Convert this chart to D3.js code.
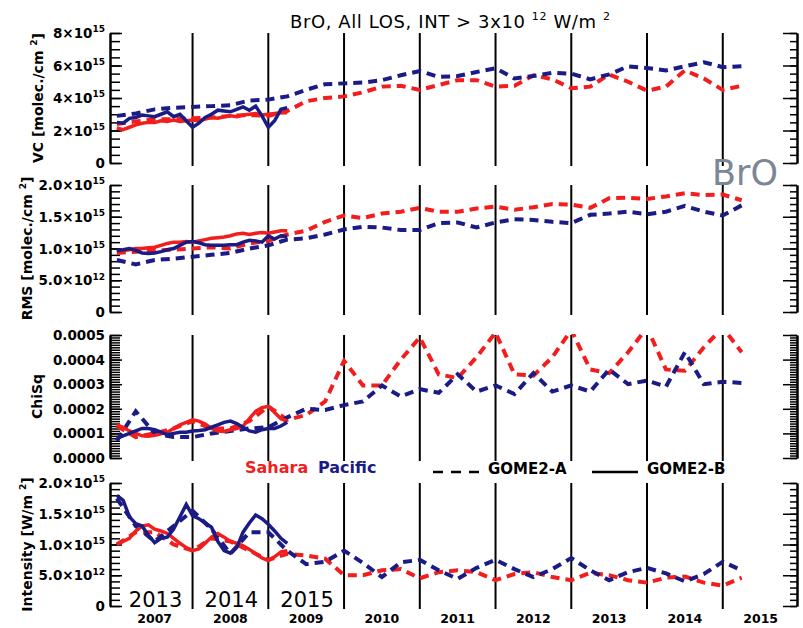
<!DOCTYPE html>
<html>
<head>
<meta charset="utf-8">
<script src="https://cdn.jsdelivr.net/npm/d3@7"></script>
<style>
  body { margin: 0; background: #fff; }
  svg { display: block; }
  text { font-family: 'DejaVu Sans', sans-serif; }
</style>
</head>
<body>
<div id="chart"></div>
<script>
// GOME2-A: quarterly values 2007.0 - 2015.25, GOME2-B: monthly values 2013.0 - 2015.25
// (GOME2-B is drawn over the 2007-2009 years, shifted by 6 years)
const timesA = d3.range(34).map(i => 2007 + i * 0.25)
const timesB = d3.range(28).map(i => 2013 + i / 12)
const shiftB = 6

// VC, units of 1e15 molec/cm2
const vcSaharaA = [2.4, 2.55, 2.7, 2.7, 2.75, 2.8, 2.9, 2.95, 2.9, 3.2, 3.8, 4.0, 4.1, 4.35, 4.7, 4.75, 4.5, 4.8, 5.1, 5.1, 4.7, 4.75, 5.4, 5.15, 4.6, 4.7, 5.45, 5.0, 4.45, 4.7, 5.7, 5.2, 4.5, 4.75]
const vcPacificA = [2.9, 3.05, 3.3, 3.4, 3.45, 3.5, 3.55, 3.85, 3.9, 4.1, 4.5, 4.85, 4.9, 4.95, 5.1, 5.4, 5.66, 5.3, 5.35, 5.6, 5.83, 5.2, 5.35, 5.55, 5.5, 5.15, 5.45, 5.95, 5.85, 5.7, 5.95, 6.2, 5.9, 5.95]
const vcSaharaB = [2.15, 2.05, 2.2, 2.35, 2.45, 2.5, 2.5, 2.6, 2.55, 2.65, 2.55, 2.6, 2.65, 2.6, 2.7, 2.8, 2.75, 2.85, 2.9, 2.85, 2.95, 3.0, 3.05, 2.95, 3.0, 3.05, 3.1, 3.1]
const vcPacificB = [2.5, 2.45, 2.75, 2.8, 2.95, 2.9, 2.85, 3.0, 3.15, 2.85, 3.0, 2.6, 2.2, 2.45, 2.8, 3.0, 3.25, 3.2, 3.15, 3.3, 3.45, 3.25, 3.5, 2.9, 2.2, 2.6, 3.3, 3.4]

// RMS, units of 1e15 molec/cm2
const rmsSaharaA = [0.93, 0.95, 0.97, 0.98, 1.0, 1.02, 1.0, 1.08, 1.12, 1.22, 1.28, 1.42, 1.52, 1.48, 1.55, 1.58, 1.64, 1.58, 1.58, 1.63, 1.66, 1.61, 1.65, 1.7, 1.69, 1.64, 1.79, 1.8, 1.78, 1.82, 1.87, 1.84, 1.85, 1.76]
const rmsPacificA = [0.82, 0.75, 0.82, 0.84, 0.87, 0.9, 0.93, 1.0, 1.05, 1.14, 1.16, 1.22, 1.3, 1.34, 1.33, 1.29, 1.29, 1.4, 1.41, 1.33, 1.41, 1.46, 1.45, 1.42, 1.4, 1.53, 1.55, 1.58, 1.54, 1.58, 1.67, 1.58, 1.52, 1.68]
const rmsSaharaB = [0.95, 0.97, 0.98, 1.0, 1.0, 1.01, 1.02, 1.05, 1.08, 1.1, 1.1, 1.11, 1.1, 1.12, 1.14, 1.16, 1.17, 1.18, 1.2, 1.23, 1.24, 1.22, 1.24, 1.25, 1.24, 1.26, 1.28, 1.28]
const rmsPacificB = [0.97, 0.98, 1.0, 0.97, 0.93, 0.92, 0.93, 0.95, 0.98, 1.0, 1.05, 1.1, 1.11, 1.09, 1.06, 1.05, 1.05, 1.05, 1.06, 1.06, 1.1, 1.13, 1.12, 1.1, 1.2, 1.15, 1.2, 1.19]

// ChiSq, units of 1e-4
const chiSaharaA = [1.3, 0.85, 1.0, 1.2, 1.5, 1.2, 1.2, 1.5, 2.1, 1.55, 1.75, 2.3, 3.95, 2.95, 2.95, 4.0, 4.9, 3.4, 3.25, 4.1, 5.1, 3.4, 3.35, 4.1, 5.2, 3.6, 3.45, 4.3, 5.3, 3.6, 3.55, 4.5, 5.3, 4.3]
const chiPacificA = [0.7, 1.9, 1.0, 0.85, 0.85, 1.0, 1.1, 1.2, 1.25, 1.65, 2.0, 1.95, 2.15, 2.3, 2.95, 2.5, 2.8, 2.65, 3.4, 2.7, 2.95, 2.6, 3.45, 2.7, 2.95, 2.7, 3.6, 3.0, 3.15, 2.9, 4.3, 3.0, 3.1, 3.05]
const chiSaharaB = [1.35, 1.25, 1.1, 1.0, 0.9, 0.88, 0.92, 0.98, 1.05, 1.2, 1.35, 1.45, 1.55, 1.5, 1.38, 1.2, 1.1, 1.08, 1.15, 1.2, 1.3, 1.6, 1.9, 2.05, 2.1, 1.85, 1.6, 1.5]
const chiPacificB = [0.8, 0.9, 1.0, 1.1, 1.2, 1.2, 1.15, 1.05, 0.95, 1.0, 1.05, 1.05, 1.1, 1.12, 1.15, 1.25, 1.35, 1.45, 1.5, 1.4, 1.25, 1.1, 1.05, 1.15, 1.2, 1.2, 1.3, 1.45]

// Intensity, units of 1e15 W/m2
const intSaharaA = [1.0, 1.2, 1.2, 1.0, 0.9, 1.1, 1.05, 0.9, 0.75, 0.85, 0.82, 0.77, 0.5, 0.5, 0.58, 0.6, 0.45, 0.55, 0.58, 0.55, 0.42, 0.52, 0.55, 0.47, 0.42, 0.54, 0.5, 0.42, 0.38, 0.46, 0.48, 0.38, 0.33, 0.46]
const intPacificA = [1.75, 1.3, 1.05, 1.3, 1.55, 1.25, 0.85, 1.2, 1.2, 0.9, 0.68, 0.72, 0.9, 0.7, 0.47, 0.71, 0.75, 0.58, 0.44, 0.62, 0.75, 0.6, 0.47, 0.6, 0.78, 0.58, 0.42, 0.55, 0.62, 0.53, 0.4, 0.52, 0.72, 0.58]
const intSaharaB = [1.0, 1.05, 1.1, 1.22, 1.3, 1.32, 1.25, 1.22, 1.18, 1.1, 1.02, 0.95, 0.9, 0.93, 1.02, 1.12, 1.18, 1.12, 1.05, 1.02, 0.98, 0.92, 0.85, 0.78, 0.74, 0.8, 0.88, 0.9]
const intPacificB = [1.8, 1.72, 1.45, 1.34, 1.3, 1.15, 1.03, 1.1, 1.12, 1.25, 1.45, 1.65, 1.47, 1.42, 1.35, 1.28, 1.05, 0.9, 0.86, 0.95, 1.2, 1.35, 1.48, 1.42, 1.33, 1.22, 1.1, 1.02]

// tick values and labels ({..} = superscript)
const vcTicks = [0, 2, 4, 6, 8]
const vcTickLabels = ['0', '2×10{15}', '4×10{15}', '6×10{15}', '8×10{15}']
const rmsTicks = [0, 0.5, 1.0, 1.5, 2.0]
const rmsTickLabels = ['0', '5.0×10{12}', '1.0×10{15}', '1.5×10{15}', '2.0×10{15}']
const chiTicks = [0, 1, 2, 3, 4, 5]
const chiTickLabels = ['0.0000', '0.0001', '0.0002', '0.0003', '0.0004', '0.0005']
const intTicks = [0, 0.5, 1.0, 1.5, 2.0]
const intTickLabels = ['0', '5.0×10{12}', '1.0×10{15}', '1.5×10{15}', '2.0×10{15}']

const yearLines = [2008, 2009, 2010, 2011, 2012, 2013, 2014, 2015]
const yearLabels = [2007, 2008, 2009, 2010, 2011, 2012, 2013, 2014, 2015]
const gomeBYears = [2013, 2014, 2015]

const red = '#f21e1e'
const navy = '#1b1b86'

const width = 803
const height = 628
const svg = d3.select('#chart').append('svg')
  .attr('width', width)
  .attr('height', height)

const left = 110
const right = 797
const x = d3.scaleLinear().domain([2006.91, 2015.98]).range([left, right])

// text with superscripts written as {..}
function richText (sel, str, size, supSize) {
  const rise = size * 0.42
  let up = false
  str.split(/(\{[^}]*\})/).filter(s => s.length).forEach(p => {
    if (p[0] === '{') {
      sel.append('tspan').text(p.slice(1, -1)).attr('font-size', supSize).attr('dy', up ? 0 : -rise)
      up = true
    } else {
      sel.append('tspan').text(p).attr('dy', up ? rise : 0)
      up = false
    }
  })
  return sel
}

const panels = [
  { id: 'vc', top: 33, bottom: 163, max: 8, ticks: vcTicks, labels: vcTickLabels, minor: 4, title: 'VC [molec./cm {2}]', titleX: 43, series: [vcSaharaA, vcPacificA, vcSaharaB, vcPacificB] },
  { id: 'rms', top: 185, bottom: 312, max: 2, ticks: rmsTicks, labels: rmsTickLabels, minor: 5, title: 'RMS [molec./cm {2}]', titleX: 32, series: [rmsSaharaA, rmsPacificA, rmsSaharaB, rmsPacificB] },
  { id: 'chi', top: 335, bottom: 458, max: 5, ticks: chiTicks, labels: chiTickLabels, minor: 10, title: 'ChiSq', titleX: 42, series: [chiSaharaA, chiPacificA, chiSaharaB, chiPacificB] },
  { id: 'int', top: 483, bottom: 606, max: 2, ticks: intTicks, labels: intTickLabels, minor: 5, title: 'Intensity [W/m {2}]', titleX: 32, series: [intSaharaA, intPacificA, intSaharaB, intPacificB] }
]

panels.forEach(p => {
  const g = svg.append('g').attr('class', 'panel-' + p.id)
  const y = d3.scaleLinear().domain([0, p.max]).range([p.bottom, p.top])

  svg.append('clipPath').attr('id', 'clip-' + p.id)
    .append('rect')
    .attr('x', left).attr('y', p.top - 1)
    .attr('width', right - left).attr('height', p.bottom - p.top + 2)

  // year separators
  g.selectAll('line.year')
    .data(yearLines)
    .enter()
    .append('line')
    .attr('x1', d => x(d)).attr('x2', d => x(d))
    .attr('y1', p.top).attr('y2', p.bottom + 3)
    .attr('stroke', '#000')
    .attr('stroke-width', 2)

  // axes (ticks point inward, IDL style)
  const step = p.ticks[1] - p.ticks[0]
  const minorVals = d3.range(0, p.max + step / (2 * p.minor), step / p.minor)
  const axes = [
    { gen: d3.axisLeft, at: left, major: -12, minorLen: -10 },
    { gen: d3.axisRight, at: right, major: -14, minorLen: -7 }
  ]
  axes.forEach(a => {
    const ag = g.append('g').attr('transform', `translate(${a.at},0)`)
    ag.append('g').call(a.gen(y).tickValues(minorVals).tickSize(a.minorLen).tickSizeOuter(0).tickFormat(''))
    ag.append('g').call(a.gen(y).tickValues(p.ticks).tickSize(a.major).tickSizeOuter(0).tickFormat(''))
    ag.selectAll('.tick line').attr('stroke', '#000').attr('stroke-width', 1.5)
    ag.selectAll('.domain').attr('stroke', '#000').attr('stroke-width', 2)
  })

  // tick labels
  p.ticks.forEach((t, i) => {
    const txt = g.append('text')
      .attr('x', 105)
      .attr('y', y(t) + 5)
      .attr('text-anchor', 'end')
      .attr('font-size', 13.5)
      .attr('font-weight', 'bold')
    richText(txt, p.labels[i], 13.5, 9)
  })

  // axis title
  const title = g.append('text')
    .attr('transform', `translate(${p.titleX},${(p.top + p.bottom) / 2}) rotate(-90)`)
    .attr('text-anchor', 'middle')
    .attr('font-size', 14)
    .attr('font-weight', 'bold')
  richText(title, p.title, 14, 9)

  // data lines
  const line = d3.line().x(d => x(d[0])).y(d => y(d[1]))
  const plot = g.append('g').attr('clip-path', `url(#clip-${p.id})`)
  const [sA, pA, sB, pB] = p.series
  const defs = [
    { values: sA, times: timesA, color: red, dash: '9,6', w: 4 },
    { values: pA, times: timesA, color: navy, dash: '9,6', w: 4 },
    { values: sB, times: timesB.map(t => t - shiftB), color: red, dash: null, w: 3.5 },
    { values: pB, times: timesB.map(t => t - shiftB), color: navy, dash: null, w: 3.5 }
  ]
  defs.forEach(s => {
    plot.append('path')
      .datum(s.values.map((v, i) => [s.times[i], v]))
      .attr('d', line)
      .attr('fill', 'none')
      .attr('stroke', s.color)
      .attr('stroke-width', s.w)
      .attr('stroke-dasharray', s.dash)
  })
})

// main title
const mainTitle = svg.append('text')
  .attr('x', 290)
  .attr('y', 28)
  .attr('font-size', 18)
  .attr('letter-spacing', 0.6)
richText(mainTitle, 'BrO, All LOS, INT > 3x10 {12} W/m {2}', 18, 11)

// big gray species label
svg.append('text')
  .attr('x', 712)
  .attr('y', 185)
  .attr('font-size', 35)
  .attr('fill', '#7b8794')
  .text('BrO')

// legend
svg.append('text').attr('x', 245).attr('y', 473).attr('font-size', 16).attr('font-weight', 'bold').attr('fill', red).text('Sahara')
svg.append('text').attr('x', 318).attr('y', 473).attr('font-size', 16).attr('font-weight', 'bold').attr('fill', navy).text('Pacific')
svg.append('line').attr('x1', 433).attr('x2', 481).attr('y1', 472).attr('y2', 472)
  .attr('stroke', '#000').attr('stroke-width', 2.5).attr('stroke-dasharray', '10,8')
svg.append('text').attr('x', 488).attr('y', 474).attr('font-size', 15).attr('font-weight', 'bold').text('GOME2-A')
svg.append('line').attr('x1', 592).attr('x2', 638).attr('y1', 472).attr('y2', 472)
  .attr('stroke', '#000').attr('stroke-width', 2.5)
svg.append('text').attr('x', 647).attr('y', 474).attr('font-size', 15).attr('font-weight', 'bold').text('GOME2-B')

// GOME2-B years inside the bottom panel
svg.selectAll('text.gomeb')
  .data(gomeBYears)
  .enter()
  .append('text')
  .attr('class', 'gomeb')
  .attr('x', d => Math.max(x(d - shiftB), left) + 12)
  .attr('y', 607)
  .attr('font-size', 21)
  .text(d => d)

// year labels under the bottom panel
svg.selectAll('text.year')
  .data(yearLabels)
  .enter()
  .append('text')
  .attr('class', 'year')
  .attr('x', d => x(d + 0.5))
  .attr('y', 623)
  .attr('text-anchor', 'middle')
  .attr('font-size', 12.5)
  .attr('font-weight', 'bold')
  .text(d => d)
</script>
</body>
</html>
